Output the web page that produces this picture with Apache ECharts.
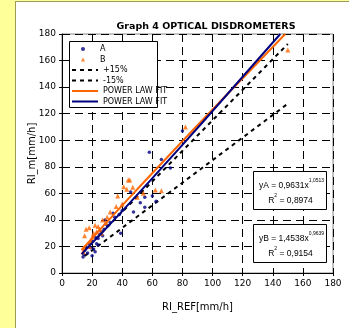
<!DOCTYPE html>
<html>
<head>
<meta charset="utf-8">
<script src="https://cdn.jsdelivr.net/npm/echarts@6/dist/echarts.min.js"></script>
<style>
  html, body { margin: 0; padding: 0; background: #ffff99; }
  #panel { position: absolute; left: 15px; top: 1px; width: 334px; height: 327px; background: #fff; border-left: 1px solid #9a9a5a; border-top: 1px solid #9a9a5a; box-sizing: border-box; }
  #chart { position: absolute; left: 0; top: 0; width: 349px; height: 328px; }
</style>
</head>
<body>
<div id="panel"></div>
<div id="chart"></div>
<script>
// scatter points: [RI_REF, RI_m]
const seriesA = [
  [14, 12], [14.5, 14], [15, 17], [16, 20], [17, 15], [18, 22], [19, 19], [20, 13],
  [20, 24], [21, 18], [22, 16], [22, 27], [23, 22], [24, 21], [24, 26], [25, 29],
  [26, 31], [27, 28], [28, 33], [28.5, 40], [30, 36], [32, 38], [34, 45], [35, 42],
  [38, 44], [39, 30], [40, 47], [45.6, 61], [47.5, 46], [52, 53], [55, 49.5], [55, 57],
  [58, 91], [60, 58], [62.5, 54], [66, 85.5], [72, 79], [80, 107]
];
const seriesB = [
  [14, 16], [14.5, 19], [15, 28], [16, 33], [18, 34], [18, 20], [19, 24], [20, 27],
  [21, 30], [22, 36], [23, 31], [24, 35], [25, 33], [26, 30], [27, 40], [29, 38],
  [30, 42], [32, 46], [36, 50], [37, 58], [40, 52], [41, 65], [43, 63], [44, 70],
  [45, 70], [47, 64.5], [50, 57], [54, 60], [62, 62.5], [66, 62], [82, 110], [150, 168]
];
const plus15 = [[15, 17.25], [150, 172.5]];
const minus15 = [[15, 12.75], [150, 127.5]];
const fitA = [[13, 14.2], [40, 46.6], [80, 96.5], [120, 147.8], [145, 180]];
const fitB = [[13, 17.3], [40, 50.9], [80, 99.3], [120, 146.7], [148.3, 180]];
const axisTicks = [0, 20, 40, 60, 80, 100, 120, 140, 160, 180];
const eqA = ['yA = 0,9631x', '1,0513', 'R', '2', ' = 0,8974'];
const eqB = ['yB = 1,4538x', '0,9639', 'R', '2', ' = 0,9154'];

const FONT = 'DejaVu Sans';
const NAVY = '#00007f';
const ORANGE = '#ff6600';
const chart = echarts.init(document.getElementById('chart'));

const axisCommon = {
  type: 'value',
  min: axisTicks[0],
  max: axisTicks[axisTicks.length - 1],
  interval: axisTicks[1] - axisTicks[0],
  nameLocation: 'middle',
  nameMoveOverlap: false,
  nameTextStyle: { fontFamily: FONT, fontSize: 10, color: '#000' },
  axisLine: { lineStyle: { color: '#000', width: 1 } },
  axisTick: { show: true, length: 3, lineStyle: { color: '#000' } },
  axisLabel: { fontFamily: FONT, fontSize: 9, color: '#000', margin: 6 },
  splitLine: { show: true, lineStyle: { color: '#000', type: [8, 5], width: 1 } }
};

const eqRich = {
  a: { fontFamily: 'Liberation Sans', fontSize: 8.5, lineHeight: 12, verticalAlign: 'bottom' },
  s: { fontFamily: 'Liberation Sans', fontSize: 5, lineHeight: 11, verticalAlign: 'top' }
};

function eqBox(lines, x, y) {
  return {
    type: 'group', left: x, top: y, z: 10,
    children: [
      { type: 'rect', z: 10, shape: { x: 0, y: 0, width: 73, height: 38 },
        style: { fill: '#fff', stroke: '#000', lineWidth: 1 } },
      { type: 'text', z: 11, x: 38, y: 7,
        style: { text: '{a|' + lines[0] + '}{s|' + lines[1] + '}', align: 'center', rich: eqRich } },
      { type: 'text', z: 11, x: 37, y: 22,
        style: { text: '{a|' + lines[2] + '}{s|' + lines[3] + '}{a|' + lines[4] + '}', align: 'center', rich: eqRich } }
    ]
  };
}

const legendText = { fontFamily: FONT, fontSize: 8, lineHeight: 10, color: '#000' };
const fitName = n => (n === 'fitA' || n === 'fitB') ? 'POWER LAW FIT' : n;

const option = {
  animation: false,
  title: {
    text: 'Graph 4 OPTICAL DISDROMETERS',
    left: 201, top: 17, textAlign: 'center',
    textStyle: { fontFamily: FONT, fontSize: 9.5, fontWeight: 'bold', color: '#000' }
  },
  grid: { left: 62, right: 16, top: 34, bottom: 55, show: true, borderColor: '#888', borderWidth: 1, backgroundColor: 'transparent' },
  xAxis: Object.assign({}, axisCommon, { name: 'RI_REF[mm/h]', nameGap: 29 }),
  yAxis: Object.assign({}, axisCommon, { name: 'RI_m[mm/h]', nameGap: 25 }),
  legend: [
    {
      orient: 'vertical', left: 81, top: 44, padding: 0, z: 20,
      itemGap: 0.5, itemWidth: 4, itemHeight: 4,
      textStyle: Object.assign({}, legendText, { padding: [0, 0, 0, 10] }),
      data: [
        { name: 'A', icon: 'circle', itemStyle: { color: NAVY } },
        { name: 'B', icon: 'triangle', itemStyle: { color: ORANGE } }
      ]
    },
    {
      orient: 'vertical', left: 71, top: 65, padding: 0, z: 20,
      itemGap: 0.5, itemWidth: 26, itemHeight: 9, textStyle: legendText,
      data: [
        { name: '+15%', itemStyle: { opacity: 0 } },
        { name: '-15%', itemStyle: { opacity: 0 } },
        { name: 'fitB', itemStyle: { opacity: 0 } },
        { name: 'fitA', itemStyle: { opacity: 0 } }
      ],
      formatter: fitName
    }
  ],
  graphic: [
    { type: 'rect', left: 69, top: 41, z: 10,
      shape: { width: 88, height: 66 }, style: { fill: '#fff', stroke: '#000', lineWidth: 1 } },
    eqBox(eqA, 253, 171), eqBox(eqB, 253, 224)
  ],
  series: [
    { name: 'A', type: 'scatter', data: seriesA, symbol: 'circle', symbolSize: 3.5,
      itemStyle: { color: NAVY }, z: 3 },
    { name: 'B', type: 'scatter', data: seriesB, symbol: 'triangle', symbolSize: 5,
      itemStyle: { color: ORANGE }, z: 3 },
    { name: '+15%', type: 'line', data: plus15, symbol: 'none',
      lineStyle: { color: '#000', width: 2, type: [4, 4] }, itemStyle: { color: '#000' }, z: 2 },
    { name: '-15%', type: 'line', data: minus15, symbol: 'none',
      lineStyle: { color: '#000', width: 2, type: [4, 4] }, itemStyle: { color: '#000' }, z: 2 },
    { name: 'fitB', type: 'line', data: fitB, symbol: 'none', smooth: true,
      lineStyle: { color: ORANGE, width: 2 }, itemStyle: { color: ORANGE }, z: 4 },
    { name: 'fitA', type: 'line', data: fitA, symbol: 'none', smooth: true,
      lineStyle: { color: NAVY, width: 2 }, itemStyle: { color: NAVY }, z: 4 }
  ]
};

chart.setOption(option);
</script>
</body>
</html>
